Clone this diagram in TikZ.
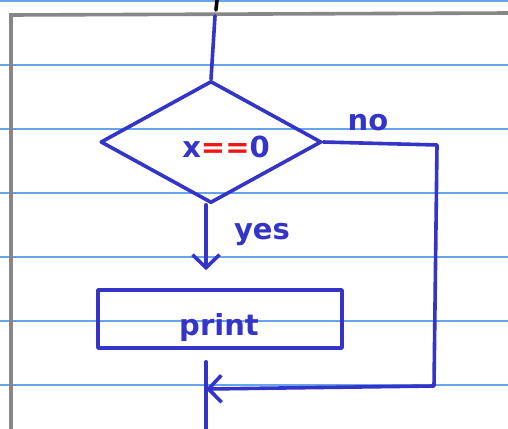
\documentclass[tikz,border=0pt]{standalone}
\usepackage{fontspec}
\setmainfont{DejaVu Sans}
\usetikzlibrary{shapes.geometric,arrows.meta}
\definecolor{ink}{RGB}{52,52,200}
\definecolor{rule}{RGB}{100,165,235}
\definecolor{frame}{RGB}{135,135,135}
\definecolor{redink}{RGB}{240,20,20}
\tikzset{
  pen/.style={draw=ink, line width=3.6pt, line cap=round, line join=round},
  arr/.style={pen, -{Straight Barb[length=13pt,width=27pt,line width=3.6pt]}},
  hand/.style={text=ink, font=\bfseries\fontsize{29}{29}\selectfont, inner sep=0pt},
  ruleline/.style={draw=rule, line width=1.2pt}
}
\begin{document}
\begin{tikzpicture}[x=1pt,y=-1pt]
\useasboundingbox[fill=white] (0,0) rectangle (508,428);
% ruled paper
\foreach \yy in {1,65,129,193,257,321,385} \draw[ruleline] (0,\yy) -- (508,\yy);
% gray frame
\draw[draw=frame, line width=3.6pt] (11,430) -- (11,15) -- (510,13);
% small black mark at top
\draw[line width=3.6pt, line cap=round] (217,0) -- (216,10);
% coordinates
\coordinate (top) at (215,16);
\coordinate (m) at (206,389);
\coordinate (c1) at (437,145);
\coordinate (c2) at (434,386);
\coordinate (bot) at (206,432);
% nodes
\node[pen, diamond, minimum width=221pt, minimum height=122pt, inner sep=0pt] (dia) at (211,142) {};
\node[hand, anchor=center] (cond) at (226,147) {x\textcolor{redink}{==}0};
\node[pen, rectangle, minimum width=244pt, minimum height=58pt, inner sep=0pt] (prt) at (220,319) {};
\node[hand, anchor=center] (ptxt) at (219,327) {print};
\node[hand] (yes) at (262,235) {yes};
\node[hand] (no) at (368,123) {no};
% connectors
\draw[pen] (top) -- (dia.north);
\draw[arr, shorten >=18pt] (m |- dia.south) -- (m |- prt.north);
\draw[arr] (dia.east) -- (c1) -- (c2) -- (m);
\draw[pen, shorten <=12pt] (m |- prt.south) -- (bot);
\end{tikzpicture}
\end{document}
